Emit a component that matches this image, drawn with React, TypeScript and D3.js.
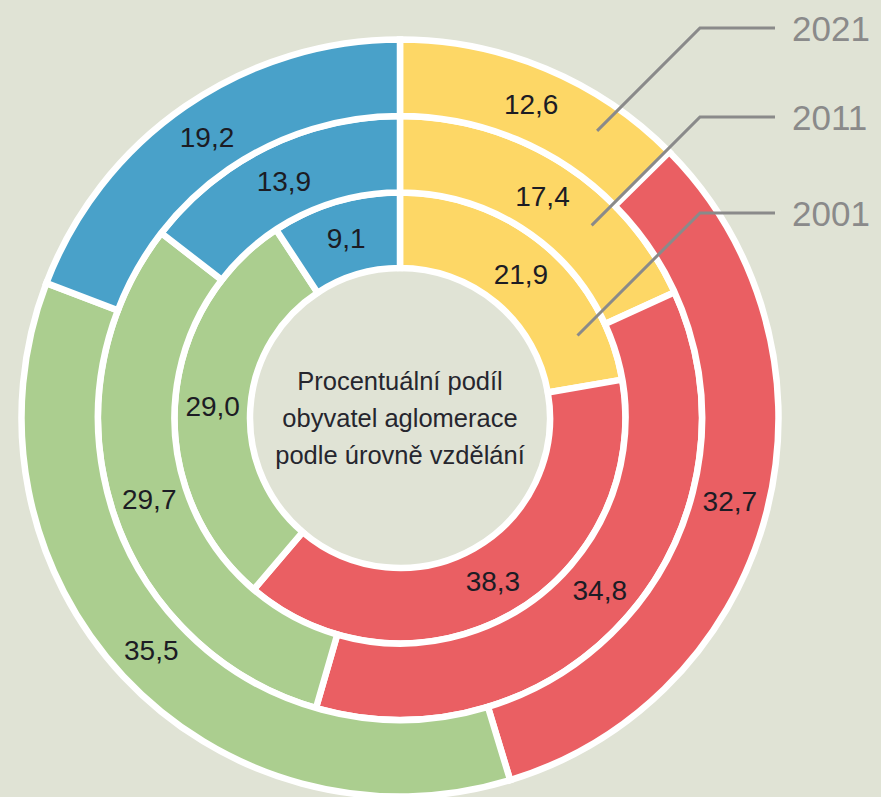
import React from "react";
import * as d3 from "d3";

// ---- data ----
const categories = ["základní", "střední bez maturity", "střední s maturitou", "vysokoškolské"];
const years = ["2001", "2011", "2021"];
const values2001 = [21.9, 38.3, 29.0, 9.1];
const values2011 = [17.4, 34.8, 29.7, 13.9];
const values2021 = [12.6, 32.7, 35.5, 19.2];
const centerLines = ["Procentuální podíl", "obyvatel aglomerace", "podle úrovně vzdělání"];

// ---- style / layout ----
const W = 881;
const H = 797;
const CX = 400;
const CY = 418;
const BG = "#e0e3d5";
const colors = ["#fdd766", "#ea5f63", "#abce8f", "#49a1c9"];
const ringEdges = [150, 225.5, 302, 378.5];
const elbowYs = [213, 117, 28];
const elbowX = 700;
const lineEndX = 775;
const textX = 792;

export default function App() {
  const series = [values2001, values2011, values2021];
  const pie = d3
    .pie<number>()
    .sort(null)
    .value((d) => d)
    .startAngle(0)
    .endAngle(2 * Math.PI);
  const fmt = (v: number) => v.toFixed(1).replace(".", ",");

  const rings = series.map((vals, i) => {
    const arc = d3
      .arc<d3.PieArcDatum<number>>()
      .innerRadius(ringEdges[i])
      .outerRadius(ringEdges[i + 1]);
    return { arcs: pie(vals), arc, i };
  });

  // leader lines: 45° from elbow to intersect ring mid radius (+8)
  const leaders = years.map((y, i) => {
    const r = (ringEdges[i] + ringEdges[i + 1]) / 2 + 8;
    const ex = elbowX - CX;
    const ey = elbowYs[i] - CY;
    // point = (ex - t, ey + t), |p| = r
    const a = 2;
    const b = -2 * ex + 2 * ey;
    const c = ex * ex + ey * ey - r * r;
    const t = (-b - Math.sqrt(b * b - 4 * a * c)) / (2 * a);
    return { y, i, px: CX + ex - t, py: CY + ey + t };
  });

  return (
    <svg
      width={W}
      height={H}
      style={{ position: "absolute", left: 0, top: 0, display: "block" }}
      fontFamily="'Liberation Sans', Arial, Helvetica, sans-serif"
    >
      <rect x={0} y={0} width={W} height={H} fill={BG} />
      <g transform={`translate(${CX},${CY})`}>
        {rings.map((ring) =>
          ring.arcs.map((d, j) => (
            <path
              key={`${ring.i}-${j}`}
              d={ring.arc(d) || ""}
              fill={colors[j]}
              stroke="#ffffff"
              strokeWidth={6.5}
              strokeLinejoin="miter"
            />
          ))
        )}
        {rings.map((ring) =>
          ring.arcs.map((d, j) => {
            const [x, y] = ring.arc.centroid(d);
            return (
              <text
                key={`t-${ring.i}-${j}`}
                x={x}
                y={y}
                textAnchor="middle"
                dominantBaseline="central"
                fontSize={28}
                fill="#1c1c24"
              >
                {fmt(d.data)}
              </text>
            );
          })
        )}
        <text textAnchor="middle" fontSize={25.5} fill="#26262e">
          {centerLines.map((l, k) => (
            <tspan key={k} x={0} y={(k - 1) * 37} dy="0.35em">
              {l}
            </tspan>
          ))}
        </text>
      </g>
      {leaders.map((l) => (
        <g key={l.y}>
          <polyline
            points={`${l.px},${l.py} ${elbowX},${elbowYs[l.i]} ${lineEndX},${elbowYs[l.i]}`}
            fill="none"
            stroke="#8a8a8a"
            strokeWidth={3}
          />
          <text
            x={textX}
            y={elbowYs[l.i]}
            dy="0.36em"
            fontSize={35}
            fill="#8a8a8a"
          >
            {l.y}
          </text>
        </g>
      ))}
    </svg>
  );
}
